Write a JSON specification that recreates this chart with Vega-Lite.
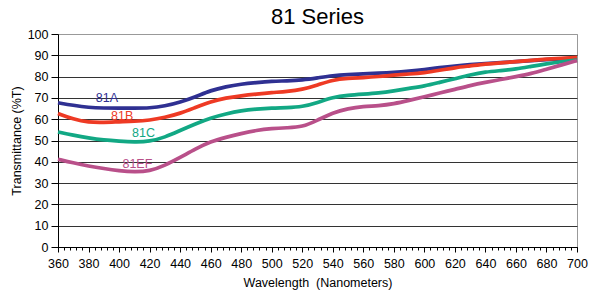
{
  "$schema": "https://vega.github.io/schema/vega-lite/v6.json",
  "width": 519,
  "height": 213,
  "autosize": "none",
  "padding": {"left": 58, "top": 34, "right": 19, "bottom": 46},
  "background": "white",
  "title": {"text": "81 Series", "fontSize": 22, "font": "Liberation Sans", "fontWeight": "normal", "color": "black", "anchor": "middle", "offset": -1},
  "config": {"view": {"stroke": "#999", "strokeWidth": 1}, "font": "Liberation Sans"},
  "datasets": {
    "series": [
      {"w":360,"s":"81A","t":67.7},{"w":370,"s":"81A","t":66.5},{"w":380,"s":"81A","t":65.5},{"w":390,"s":"81A","t":65.2},{"w":400,"s":"81A","t":65.2},{"w":410,"s":"81A","t":65.2},{"w":420,"s":"81A","t":65.2},{"w":430,"s":"81A","t":66.2},{"w":440,"s":"81A","t":68.0},{"w":450,"s":"81A","t":70.5},{"w":460,"s":"81A","t":73.5},{"w":470,"s":"81A","t":75.3},{"w":480,"s":"81A","t":76.5},{"w":490,"s":"81A","t":77.2},{"w":500,"s":"81A","t":77.8},{"w":510,"s":"81A","t":78.0},{"w":520,"s":"81A","t":78.4},{"w":530,"s":"81A","t":79.4},{"w":540,"s":"81A","t":80.5},{"w":550,"s":"81A","t":81.0},{"w":560,"s":"81A","t":81.3},{"w":570,"s":"81A","t":81.6},{"w":580,"s":"81A","t":82.0},{"w":590,"s":"81A","t":82.6},{"w":600,"s":"81A","t":83.3},{"w":610,"s":"81A","t":84.2},{"w":620,"s":"81A","t":85.0},{"w":630,"s":"81A","t":85.6},{"w":640,"s":"81A","t":86.1},{"w":650,"s":"81A","t":86.5},{"w":660,"s":"81A","t":87.0},{"w":670,"s":"81A","t":87.5},{"w":680,"s":"81A","t":88.0},{"w":690,"s":"81A","t":88.3},{"w":700,"s":"81A","t":88.6},
      {"w":360,"s":"81B","t":62.7},{"w":370,"s":"81B","t":60.0},{"w":380,"s":"81B","t":58.5},{"w":390,"s":"81B","t":58.5},{"w":400,"s":"81B","t":58.8},{"w":410,"s":"81B","t":59.0},{"w":420,"s":"81B","t":59.5},{"w":430,"s":"81B","t":60.8},{"w":440,"s":"81B","t":62.7},{"w":450,"s":"81B","t":65.5},{"w":460,"s":"81B","t":68.2},{"w":470,"s":"81B","t":70.0},{"w":480,"s":"81B","t":71.0},{"w":490,"s":"81B","t":71.8},{"w":500,"s":"81B","t":72.5},{"w":510,"s":"81B","t":73.0},{"w":520,"s":"81B","t":73.9},{"w":530,"s":"81B","t":76.0},{"w":540,"s":"81B","t":78.5},{"w":550,"s":"81B","t":79.2},{"w":560,"s":"81B","t":79.5},{"w":570,"s":"81B","t":80.0},{"w":580,"s":"81B","t":80.7},{"w":590,"s":"81B","t":81.2},{"w":600,"s":"81B","t":81.8},{"w":610,"s":"81B","t":83.0},{"w":620,"s":"81B","t":84.2},{"w":630,"s":"81B","t":85.0},{"w":640,"s":"81B","t":85.9},{"w":650,"s":"81B","t":86.5},{"w":660,"s":"81B","t":87.0},{"w":670,"s":"81B","t":87.6},{"w":680,"s":"81B","t":88.2},{"w":690,"s":"81B","t":88.6},{"w":700,"s":"81B","t":89.0},
      {"w":360,"s":"81C","t":54.0},{"w":370,"s":"81C","t":52.5},{"w":380,"s":"81C","t":51.2},{"w":390,"s":"81C","t":50.2},{"w":400,"s":"81C","t":49.7},{"w":410,"s":"81C","t":49.3},{"w":420,"s":"81C","t":49.5},{"w":430,"s":"81C","t":51.5},{"w":440,"s":"81C","t":54.7},{"w":450,"s":"81C","t":57.8},{"w":460,"s":"81C","t":60.6},{"w":470,"s":"81C","t":62.5},{"w":480,"s":"81C","t":64.0},{"w":490,"s":"81C","t":64.8},{"w":500,"s":"81C","t":65.3},{"w":510,"s":"81C","t":65.4},{"w":520,"s":"81C","t":65.8},{"w":530,"s":"81C","t":67.8},{"w":540,"s":"81C","t":70.3},{"w":550,"s":"81C","t":71.3},{"w":560,"s":"81C","t":71.8},{"w":570,"s":"81C","t":72.3},{"w":580,"s":"81C","t":73.3},{"w":590,"s":"81C","t":74.5},{"w":600,"s":"81C","t":75.5},{"w":610,"s":"81C","t":77.3},{"w":620,"s":"81C","t":79.0},{"w":630,"s":"81C","t":80.8},{"w":640,"s":"81C","t":82.2},{"w":650,"s":"81C","t":82.8},{"w":660,"s":"81C","t":83.5},{"w":670,"s":"81C","t":84.8},{"w":680,"s":"81C","t":86.0},{"w":690,"s":"81C","t":87.0},{"w":700,"s":"81C","t":87.8},
      {"w":360,"s":"81EF","t":41.2},{"w":370,"s":"81EF","t":39.5},{"w":380,"s":"81EF","t":38.0},{"w":390,"s":"81EF","t":36.8},{"w":400,"s":"81EF","t":35.8},{"w":410,"s":"81EF","t":35.2},{"w":420,"s":"81EF","t":35.6},{"w":430,"s":"81EF","t":38.3},{"w":440,"s":"81EF","t":42.0},{"w":450,"s":"81EF","t":46.0},{"w":460,"s":"81EF","t":49.5},{"w":470,"s":"81EF","t":51.5},{"w":480,"s":"81EF","t":53.3},{"w":490,"s":"81EF","t":54.8},{"w":500,"s":"81EF","t":55.6},{"w":510,"s":"81EF","t":56.0},{"w":520,"s":"81EF","t":56.3},{"w":530,"s":"81EF","t":59.5},{"w":540,"s":"81EF","t":63.1},{"w":550,"s":"81EF","t":65.0},{"w":560,"s":"81EF","t":66.0},{"w":570,"s":"81EF","t":66.3},{"w":580,"s":"81EF","t":67.2},{"w":590,"s":"81EF","t":68.8},{"w":600,"s":"81EF","t":70.5},{"w":610,"s":"81EF","t":72.3},{"w":620,"s":"81EF","t":74.0},{"w":630,"s":"81EF","t":75.8},{"w":640,"s":"81EF","t":77.3},{"w":650,"s":"81EF","t":78.6},{"w":660,"s":"81EF","t":80.0},{"w":670,"s":"81EF","t":81.4},{"w":680,"s":"81EF","t":83.5},{"w":690,"s":"81EF","t":85.5},{"w":700,"s":"81EF","t":87.5}
    ],
    "labels": [
      {"s":"81A","w":392,"t":70.0},
      {"s":"81B","w":402,"t":61.6},
      {"s":"81C","w":416,"t":53.6},
      {"s":"81EF","w":412,"t":39.2}
    ]
  },
  "layer": [
    {
      "data": {"name": "series"},
      "mark": {"type": "line", "strokeWidth": 3.7, "interpolate": "basis"},
      "encoding": {
        "x": {
          "field": "w", "type": "quantitative",
          "scale": {"domain": [360, 700], "nice": false, "zero": false},
          "axis": {
            "orient": "bottom",
            "values": [360,380,400,420,440,460,480,500,520,540,560,580,600,620,640,660,680,700],
            "labelOverlap": false, "labelBound": false, "labelFlush": false,
            "title": "Wavelength\u00a0 (Nanometers)",
            "titleFont": "Liberation Sans", "titleFontSize": 12.5, "titleFontWeight": "normal", "titleColor": "black", "titlePadding": 7,
            "labelFont": "Liberation Sans", "labelFontSize": 12.5, "labelColor": "black", "labelPadding": 5,
            "tickSize": 5, "tickColor": "black", "domainColor": "black", "grid": false
          }
        },
        "y": {
          "field": "t", "type": "quantitative",
          "scale": {"domain": [0, 100], "nice": false},
          "axis": {
            "orient": "left",
            "values": [0,10,20,30,40,50,60,70,80,90,100],
            "labelOverlap": false, "labelBound": false, "labelFlush": false,
            "title": "Transmittance (%T)",
            "titleFont": "Liberation Sans", "titleFontSize": 12.5, "titleFontWeight": "normal", "titleColor": "black", "titlePadding": 4,
            "labelFont": "Liberation Sans", "labelFontSize": 12.5, "labelColor": "black", "labelPadding": 3,
            "tickSize": 7, "tickColor": "black", "domainColor": "black",
            "grid": true, "gridColor": {"condition": {"test": "datum.value == 100", "value": "#999"}, "value": "#333"}, "gridWidth": 1
          }
        },
        "color": {
          "field": "s", "type": "nominal",
          "scale": {"domain": ["81A", "81B", "81C", "81EF"], "range": ["#2f3092", "#ee3a24", "#12a884", "#b9508a"]},
          "legend": null
        }
      }
    },
    {
      "data": {"name": "labels"},
      "mark": {"type": "text", "fontSize": 12.5, "font": "Liberation Sans", "baseline": "middle", "align": "center"},
      "encoding": {
        "x": {
          "field": "w", "type": "quantitative",
          "axis": {
            "orient": "bottom",
            "values": [360,364,368,372,376,380,384,388,392,396,400,404,408,412,416,420,424,428,432,436,440,444,448,452,456,460,464,468,472,476,480,484,488,492,496,500,504,508,512,516,520,524,528,532,536,540,544,548,552,556,560,564,568,572,576,580,584,588,592,596,600,604,608,612,616,620,624,628,632,636,640,644,648,652,656,660,664,668,672,676,680,684,688,692,696,700],
            "labels": false, "domain": false, "grid": false, "tickSize": 3, "tickColor": "black", "title": null
          }
        },
        "y": {"field": "t", "type": "quantitative", "axis": null},
        "text": {"field": "s"},
        "color": {"field": "s", "type": "nominal", "legend": null}
      }
    }
  ],
  "resolve": {"axis": {"x": "independent", "y": "independent"}}
}
